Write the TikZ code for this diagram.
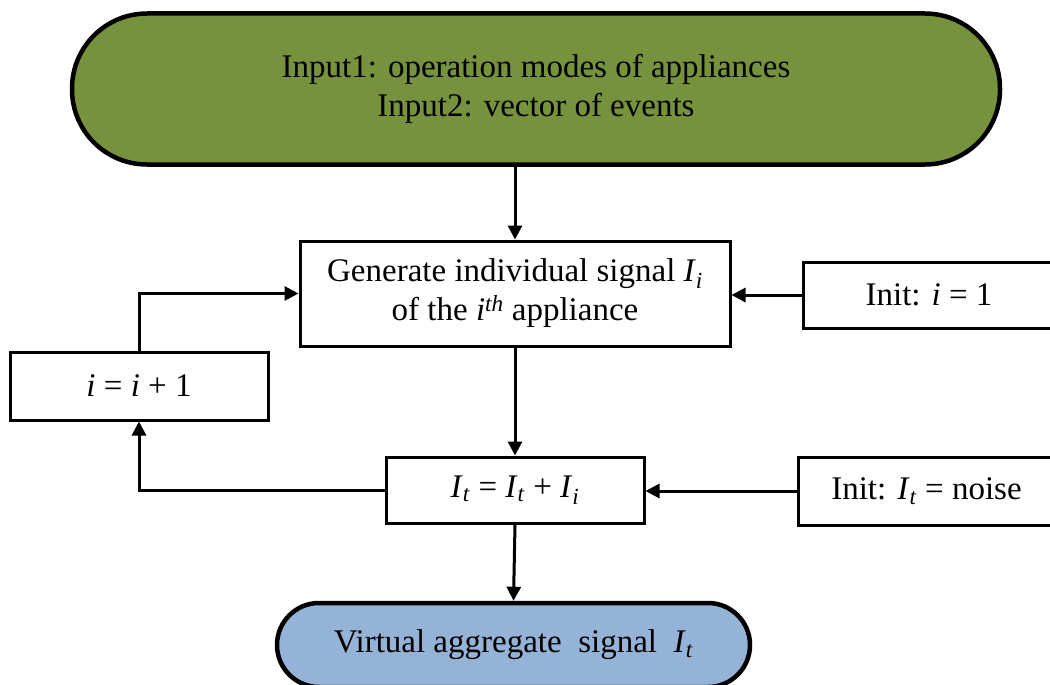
\documentclass[tikz,border=0pt]{standalone}
\usepackage{fontspec}
\setmainfont{Liberation Serif}
\usetikzlibrary{arrows.meta}
\newcommand\vI[1]{\textit{I}\textsubscript{\textit{#1}}}
\definecolor{olivegreen}{RGB}{118,146,60}
\definecolor{paleblue}{RGB}{149,179,215}
\begin{document}
\begin{tikzpicture}[x=1pt,y=-1pt,
  every node/.style={font=\fontsize{33}{39}\selectfont},
  box/.style={draw,line width=3pt,rectangle,align=center,inner sep=0pt,fill=white},
  term/.style={draw,line width=4.5pt,align=center,inner sep=0pt},
  arr/.style={line width=3pt,-{Triangle[length=14pt,width=14pt]}}]
\useasboundingbox (0,0) rectangle (1050,685);
\node[term,fill=olivegreen,rounded corners=75pt,minimum width=928pt,minimum height=151pt] (in) at (536,89)
  {Input1: operation modes of appliances\\Input2: vector of events};
\node[box,minimum width=430pt,minimum height=105pt] (gen) at (515,293.5)
  {Generate individual signal \vI{i}\\of the \textit{i}\textsuperscript{\textit{th}} appliance};
\node[box,minimum width=252pt,minimum height=66pt] (init1) at (929,295) {Init: \textit{i} = 1};
\node[box,minimum width=258pt,minimum height=68pt] (inc) at (139,386) {\textit{i} = \textit{i} + 1};
\node[box,minimum width=258pt,minimum height=66pt] (it) at (515,490) {\vI{t} = \vI{t} + \vI{i}};
\node[box,minimum width=257pt,minimum height=68pt] (init2) at (926.5,491) {Init: \vI{t} = noise};
\node[term,fill=paleblue,rounded corners=42pt,minimum width=473pt,minimum height=84pt] (out) at (513.5,645)
  {Virtual aggregate\ \ signal\ \ \vI{t}};
\draw[arr] (in.south -| gen.north) -- (gen.north);
\draw[arr] (init1.west) -- (init1.west -| gen.east);
\draw[arr] (gen.south) -- (it.north);
\draw[arr] (init2.west) -- (init2.west -| it.east);
\draw[arr] (it.west) -| (inc.south);
\draw[arr] (inc.north) |- (gen.west);
\draw[arr] (it.south) -- (out.north);
\end{tikzpicture}
\end{document}
